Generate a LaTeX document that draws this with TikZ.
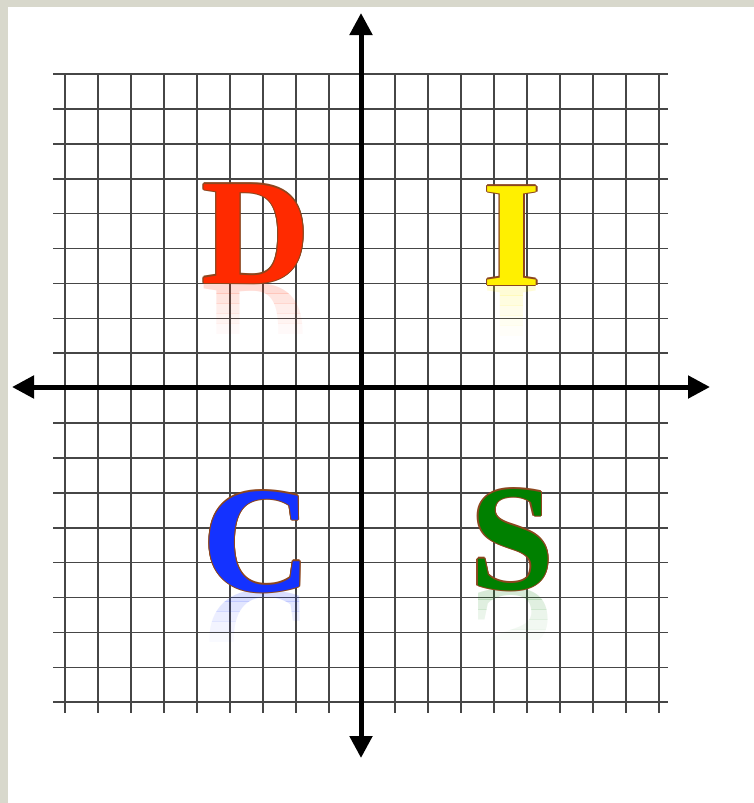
\documentclass[tikz,border=0pt]{standalone}
\usepackage{fontspec}
\newfontfamily\discfont{Liberation Serif Bold}
\usetikzlibrary{arrows.meta,calc}
\definecolor{bgstrip}{RGB}{216,216,204}
\definecolor{gridcol}{RGB}{70,70,70}
\definecolor{outlinecol}{RGB}{140,70,30}
\definecolor{dred}{RGB}{255,42,0}
\definecolor{iyellow}{RGB}{255,240,0}
\definecolor{cblue}{RGB}{20,50,255}
\definecolor{sgreen}{RGB}{0,128,0}
\tikzset{
  gridline/.style={gridcol, line width=1.6pt},
  axisline/.style={black, line width=5pt,
    {Triangle[width=22pt,length=22pt]}-{Triangle[width=22pt,length=22pt]}},
  letter/.style={font=\fontsize{151}{151}\selectfont\discfont, anchor=base, inner sep=0pt},
}
\newcommand\discletter[5]{%
  \foreach \k/\op in {0/0.16,1/0.12,2/0.08,3/0.05,4/0.025} {
    \begin{scope}
      \clip (#2-70,{#3+10*\k}) rectangle (#2+70,{#3+10*\k+10});
      \node[letter, text=#4, text opacity=\op, yscale=-1, transform shape] at (#2,#3) {#5};
    \end{scope}
  }
  \foreach \a in {0,45,...,315}
    \node[letter, text=outlinecol] at ($(#2,#3)+(\a:1.4)$) {#5};
  \node[letter, text=#4] (#1) at (#2,#3) {#5};
}
\begin{document}
\begin{tikzpicture}[x=1pt,y=-1pt]
\useasboundingbox (0,0) rectangle (754,803);
\fill[bgstrip] (0,0) rectangle (754,803);
\fill[white] (8,7) rectangle (754,803);
% grid
\foreach \i in {0,...,18}
  \draw[gridline] ({65+33*\i},74) -- ({65+33*\i},713);
\foreach \j in {0,...,18}
  \draw[gridline] (53,{74+34.9*\j}) -- (668,{74+34.9*\j});
% axes
\coordinate (ytop) at (361,13);
\coordinate (ybot) at (361,758);
\coordinate (xleft) at (12,387);
\coordinate (xright) at (710,387);
\draw[axisline] (ybot) -- (ytop);
\draw[axisline] (xleft) -- (xright);
% letters
\discletter{D}{256}{283}{dred}{D}
\discletter{I}{512}{285}{iyellow}{I}
\discletter{C}{257}{591}{cblue}{C}
\discletter{S}{512}{589}{sgreen}{S}
\end{tikzpicture}
\end{document}
